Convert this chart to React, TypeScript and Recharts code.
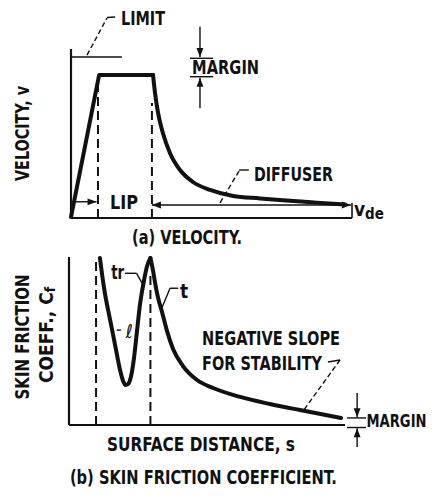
import { LineChart, Line, XAxis, YAxis, ReferenceLine, ReferenceDot } from 'recharts'

// (a) velocity along the surface, arbitrary units 0..100
const velocityS = [0, 10, 29.2, 29.9, 31, 32.7, 35.2, 38.8, 43.4, 49.5, 57.7, 67.3, 75.4, 87.5, 97.5]
const velocityV = [0.5, 84.6, 84.6, 74, 62, 50.3, 38.5, 28.4, 21.3, 16.6, 13, 11.6, 10.5, 9.1, 8]

// (b) skin friction coefficient, arbitrary units 0..100
const frictionS = [11.2, 12.7, 14.9, 16.7, 18.5, 19.6, 20.5, 21.4, 22.5, 23.6, 24.6, 25.7, 27.2, 28.3, 29.5, 30.4, 31.2, 32.2, 33.7, 35.5, 37.7, 41.3, 46.4, 52.2, 62, 72.8, 83.7, 98.6]
const frictionCf = [99.4, 81.5, 62.5, 47.6, 32.7, 26.2, 23.8, 24.4, 29.2, 40.5, 55.4, 71.4, 86.3, 94.6, 99.4, 92.3, 84.5, 76.2, 67.3, 56, 45.2, 35.1, 26.8, 22, 16.7, 12.5, 8.9, 4.2]

const limitV = 95.3
const lipStart = 9.6
const lipEnd = 28.8
const cfLipStart = 9.8
const cfLipEnd = 29.5

const velocityData = velocityS.map((s, i) => ({ s, v: velocityV[i] }))
const frictionData = frictionS.map((s, i) => ({ s, cf: frictionCf[i] }))
// split at the sharp corners so the smooth parts can be drawn monotone
const plateauEnd = 2
const peakIdx = frictionCf.indexOf(Math.max(...frictionCf.slice(5)), 5)

const FONT = "'Liberation Sans Narrow', 'DejaVu Sans Condensed', 'Liberation Sans', Arial, sans-serif"
const INK = '#111'

type Pt = { x: number; y: number }
type SegOpts = { dash?: string; width?: number; head?: 'start' | 'end' | 'both' }

function arrowHead(tx: number, ty: number, fx: number, fy: number) {
  const ang = Math.atan2(ty - fy, tx - fx)
  const len = 9
  const half = 3.4
  const bx = tx - len * Math.cos(ang)
  const by = ty - len * Math.sin(ang)
  const px = -Math.sin(ang) * half
  const py = Math.cos(ang) * half
  return <polygon points={`${tx},${ty} ${bx + px},${by + py} ${bx - px},${by - py}`} fill={INK} />
}

// line segment in data coordinates, optionally dashed / with arrow heads
function seg(a: Pt, b: Pt, o: SegOpts = {}) {
  const shape = (p: any) => {
    const { x1, y1, x2, y2 } = p
    return (
      <g>
        <line x1={x1} y1={y1} x2={x2} y2={y2} stroke={INK} strokeWidth={o.width ?? 1.6} strokeDasharray={o.dash} />
        {(o.head === 'end' || o.head === 'both') && arrowHead(x2, y2, x1, y1)}
        {(o.head === 'start' || o.head === 'both') && arrowHead(x1, y1, x2, y2)}
      </g>
    )
  }
  return <ReferenceLine segment={[a, b]} ifOverflow="visible" shape={shape} />
}

type NoteOpts = { anchor?: 'start' | 'middle' | 'end'; size?: number; len?: number; rotate?: boolean; italic?: boolean; weight?: string }

// text pinned to a data coordinate
function note(text: any, x: number, y: number, o: NoteOpts = {}) {
  const shape = (p: any) => (
    <text
      x={p.cx}
      y={p.cy}
      textAnchor={o.anchor ?? 'start'}
      dominantBaseline="central"
      fontFamily={FONT}
      fontSize={o.size ?? 19}
      fontWeight={o.weight ?? 'bold'}
      fontStyle={o.italic ? 'italic' : 'normal'}
      fill={INK}
      textLength={o.len}
      lengthAdjust={o.len ? 'spacingAndGlyphs' : undefined}
      transform={o.rotate ? `rotate(-90 ${p.cx} ${p.cy})` : undefined}
    >
      {text}
    </text>
  )
  return <ReferenceDot x={x} y={y} r={0} ifOverflow="visible" shape={shape} />
}

function VelocityPanel() {
  return (
    <LineChart width={436} height={250} data={velocityData} margin={{ top: 49, right: 84, bottom: 32, left: 71 }}>
      <XAxis type="number" dataKey="s" domain={[0, 100]} hide />
      <YAxis type="number" domain={[0, 100]} hide />
      <ReferenceLine x={0} stroke={INK} strokeWidth={2.2} ifOverflow="visible" />
      <ReferenceLine y={0} stroke={INK} strokeWidth={2.2} ifOverflow="visible" />
      {seg({ x: 100, y: 0 }, { x: 100, y: 8.9 }, { width: 1.6 })}

      {/* limit */}
      {seg({ x: 0, y: limitV }, { x: 18.1, y: limitV }, { width: 1.6 })}
      {seg({ x: 5.7, y: 96.4 }, { x: 12.8, y: 118.3 }, { dash: '5 3', width: 1.4 })}
      {seg({ x: 12.8, y: 118.6 }, { x: 15.7, y: 118.9 }, { width: 1.4 })}
      {note('LIMIT', 17.8, 118.5, { len: 44 })}

      {/* margin */}
      {seg({ x: 42.3, y: 94.5 }, { x: 50.6, y: 94.5 }, { width: 1.4 })}
      {seg({ x: 42.3, y: 83.6 }, { x: 50.6, y: 83.6 }, { width: 1.4 })}
      {seg({ x: 45.9, y: 113.2 }, { x: 45.9, y: 95.2 }, { head: 'end', width: 1.4 })}
      {seg({ x: 45.9, y: 64.9 }, { x: 45.9, y: 83 }, { head: 'end', width: 1.4 })}
      {note('MARGIN', 43.1, 89.4, { len: 67 })}

      {/* lip */}
      {seg({ x: lipStart, y: 0 }, { x: lipStart, y: 80 }, { dash: '9 5', width: 2 })}
      {seg({ x: lipEnd, y: 0 }, { x: lipEnd, y: 68 }, { dash: '9 5', width: 2 })}
      {seg({ x: 1.4, y: 9.6 }, { x: 9.1, y: 9.6 }, { head: 'end', width: 1.4 })}
      {note('LIP', 18.9, 9.2, { anchor: 'middle', len: 28 })}

      {/* diffuser */}
      {seg({ x: lipEnd, y: 7.7 }, { x: 99.6, y: 7.7 }, { head: 'both', width: 1.6 })}
      {seg({ x: 63.3, y: 28.4 }, { x: 59.8, y: 28.4 }, { width: 1.4 })}
      {seg({ x: 59.8, y: 27.8 }, { x: 53, y: 8.9 }, { dash: '5 3', width: 1.4 })}
      {note('DIFFUSER', 65.1, 26.3, { len: 79 })}
      {note(
        <>
          v<tspan fontSize={15} dy={5}>de</tspan>
        </>,
        100.7,
        5.3,
      )}

      {note('VELOCITY, v', -17.5, 50, { anchor: 'middle', rotate: true, len: 95 })}
      {note('(a) VELOCITY.', 41.3, -11.2, { anchor: 'middle', len: 110 })}

      <Line data={velocityData.slice(0, plateauEnd + 1)} type="linear" dataKey="v" stroke={INK} strokeWidth={4} strokeLinejoin="round" strokeLinecap="round" dot={false} activeDot={false} isAnimationActive={false} />
      <Line data={velocityData.slice(plateauEnd)} type="monotone" dataKey="v" stroke={INK} strokeWidth={4} strokeLinecap="round" dot={false} activeDot={false} isAnimationActive={false} />
    </LineChart>
  )
}

function FrictionPanel() {
  return (
    <LineChart width={436} height={249} data={frictionData} margin={{ top: 7, right: 91, bottom: 74, left: 69 }}>
      <XAxis type="number" dataKey="s" domain={[0, 100]} hide />
      <YAxis type="number" domain={[0, 100]} hide />
      <ReferenceLine x={0} stroke={INK} strokeWidth={2.2} ifOverflow="visible" />
      <ReferenceLine y={0} stroke={INK} strokeWidth={2.2} ifOverflow="visible" />

      {seg({ x: cfLipStart, y: 0 }, { x: cfLipStart, y: 97 }, { dash: '9 5', width: 2 })}
      {seg({ x: cfLipEnd, y: 0 }, { x: cfLipEnd, y: 90 }, { dash: '9 5', width: 2 })}

      {/* tr, t, l labels */}
      {seg({ x: 20.3, y: 90.3 }, { x: 24.5, y: 90.3 }, { width: 1.4 })}
      {seg({ x: 24.5, y: 90.3 }, { x: 27.3, y: 82 }, { width: 1.4 })}
      {note('tr', 15.3, 90.8, { len: 13 })}
      {seg({ x: 33.6, y: 69.5 }, { x: 36.6, y: 81.4 }, { width: 1.4 })}
      {seg({ x: 36.6, y: 81.4 }, { x: 39.6, y: 81.4 }, { width: 1.4 })}
      {note('t', 40.2, 79.8)}
      {seg({ x: 17.3, y: 56.5 }, { x: 18.8, y: 56.5 }, { width: 1.4 })}
      {note('ℓ', 20.6, 56, { italic: true, weight: 'normal' })}

      {/* negative slope */}
      {note('NEGATIVE SLOPE', 48.2, 51.8, { len: 138 })}
      {note('FOR STABILITY', 48.2, 37.2, { len: 120 })}
      {seg({ x: 93.8, y: 37.5 }, { x: 98.2, y: 38.7 }, { width: 1.4 })}
      {seg({ x: 98.2, y: 38.7 }, { x: 84.8, y: 8.3 }, { dash: '5 3', width: 1.4 })}

      {/* margin */}
      {seg({ x: 100.7, y: 4.2 }, { x: 107.6, y: 4.2 }, { width: 1.4 })}
      {seg({ x: 100.7, y: -1.5 }, { x: 107.6, y: -1.5 }, { width: 1.4 })}
      {seg({ x: 104.4, y: 19 }, { x: 104.4, y: 4.6 }, { head: 'end', width: 1.4 })}
      {seg({ x: 104.4, y: -13.1 }, { x: 104.4, y: -1.9 }, { head: 'end', width: 1.4 })}
      {note('MARGIN', 107.8, 2.4, { len: 60, size: 17 })}

      {note('SKIN FRICTION', -17, 52.4, { anchor: 'middle', rotate: true, len: 125 })}
      {note(
        <>
          COEFF., C<tspan fontSize={14} dy={4}>f</tspan>
        </>,
        -8.3,
        53.6,
        { anchor: 'middle', rotate: true },
      )}
      {note('SURFACE DISTANCE, s', 47.8, -11.6, { anchor: 'middle', len: 188 })}
      {note('(b) SKIN FRICTION COEFFICIENT.', 48.7, -31, { anchor: 'middle', len: 267 })}

      <Line data={frictionData.slice(0, peakIdx + 1)} type="monotone" dataKey="cf" stroke={INK} strokeWidth={4} strokeLinecap="round" dot={false} activeDot={false} isAnimationActive={false} />
      <Line data={frictionData.slice(peakIdx)} type="monotone" dataKey="cf" stroke={INK} strokeWidth={4} strokeLinecap="round" dot={false} activeDot={false} isAnimationActive={false} />
    </LineChart>
  )
}

export default function App() {
  return (
    <div style={{ position: 'absolute', left: 0, top: 0, width: 436, height: 499, background: '#fff' }}>
      <div style={{ position: 'absolute', left: 0, top: 0 }}>
        <VelocityPanel />
      </div>
      <div style={{ position: 'absolute', left: 0, top: 250 }}>
        <FrictionPanel />
      </div>
    </div>
  )
}
